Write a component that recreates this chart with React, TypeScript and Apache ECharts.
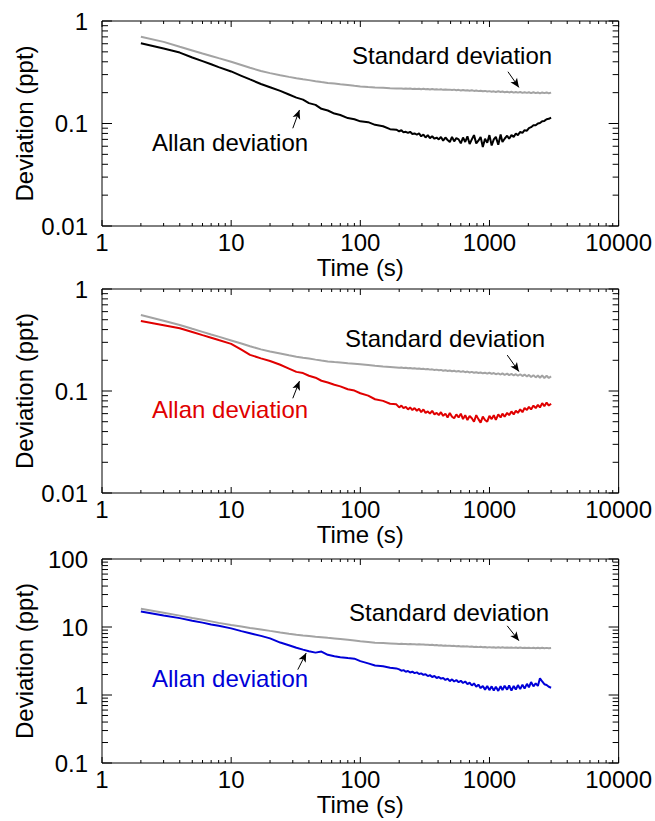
import React, { useEffect, useRef } from 'react';
import * as echarts from 'echarts';

const FONT = "'Liberation Sans', Arial, Helvetica, sans-serif";

// time grid (s)
const T = [
  2, 3, 4, 5, 6, 7, 8, 10, 12, 14,
  17, 20, 24, 28, 32, 36, 40, 45, 50, 56,
  63, 70, 80, 90, 100, 115, 130, 150, 170, 190,
  200, 208, 216, 225, 234, 243, 253, 263, 274, 285,
  296, 308, 320, 333, 346, 360, 375, 390, 405, 421,
  438, 456, 474, 493, 513, 533, 554, 577, 600, 624,
  649, 675, 702, 730, 759, 790, 821, 854, 888, 924,
  961, 999, 1040, 1080, 1120, 1170, 1220, 1260, 1310, 1370,
  1420, 1480, 1540, 1600, 1660, 1730, 1800, 1870, 1950, 2020,
  2100, 2190, 2280, 2370, 2460, 2560, 2660, 2770, 2880, 3000,
];

// panel 1 (black)
const P1_ALLAN = [
  0.606, 0.538, 0.492, 0.441, 0.406, 0.378, 0.355, 0.322, 0.292, 0.269,
  0.243, 0.226, 0.208, 0.192, 0.179, 0.171, 0.158, 0.152, 0.139, 0.134,
  0.125, 0.121, 0.113, 0.110, 0.105, 0.103, 0.097, 0.094, 0.088, 0.087,
  0.084, 0.086, 0.082, 0.083, 0.081, 0.083, 0.079, 0.080, 0.078, 0.080,
  0.075, 0.078, 0.073, 0.077, 0.072, 0.075, 0.071, 0.073, 0.070, 0.074,
  0.068, 0.073, 0.069, 0.066, 0.074, 0.067, 0.072, 0.070, 0.064, 0.073,
  0.066, 0.075, 0.063, 0.070, 0.077, 0.064, 0.068, 0.074, 0.059, 0.071,
  0.065, 0.077, 0.061, 0.070, 0.074, 0.062, 0.078, 0.066, 0.071, 0.076,
  0.071, 0.077, 0.074, 0.080, 0.077, 0.083, 0.081, 0.086, 0.085, 0.090,
  0.092, 0.096, 0.096, 0.100, 0.101, 0.105, 0.106, 0.110, 0.111, 0.114,
];
const P1_STD = [
  0.703, 0.626, 0.560, 0.516, 0.482, 0.456, 0.434, 0.400, 0.372, 0.350,
  0.325, 0.310, 0.296, 0.285, 0.276, 0.270, 0.265, 0.259, 0.254, 0.249,
  0.245, 0.241, 0.237, 0.233, 0.230, 0.227, 0.225, 0.223, 0.221, 0.220,
  0.219, 0.220, 0.218, 0.219, 0.218, 0.219, 0.217, 0.218, 0.217, 0.218,
  0.216, 0.218, 0.216, 0.217, 0.215, 0.217, 0.215, 0.216, 0.214, 0.216,
  0.213, 0.215, 0.213, 0.214, 0.212, 0.214, 0.211, 0.213, 0.210, 0.212,
  0.210, 0.211, 0.209, 0.211, 0.208, 0.210, 0.207, 0.209, 0.206, 0.208,
  0.205, 0.207, 0.204, 0.206, 0.203, 0.206, 0.203, 0.205, 0.202, 0.204,
  0.201, 0.204, 0.200, 0.203, 0.200, 0.203, 0.199, 0.202, 0.199, 0.202,
  0.198, 0.202, 0.198, 0.201, 0.197, 0.201, 0.198, 0.201, 0.197, 0.200,
];

// panel 2 (red)
const P2_ALLAN = [
  0.486, 0.442, 0.412, 0.379, 0.353, 0.333, 0.316, 0.290, 0.254, 0.226,
  0.209, 0.197, 0.181, 0.166, 0.154, 0.150, 0.141, 0.135, 0.126, 0.121,
  0.115, 0.111, 0.104, 0.101, 0.095, 0.090, 0.083, 0.080, 0.075, 0.074,
  0.069, 0.072, 0.068, 0.070, 0.066, 0.069, 0.065, 0.068, 0.064, 0.067,
  0.062, 0.066, 0.061, 0.063, 0.060, 0.064, 0.059, 0.061, 0.058, 0.062,
  0.057, 0.060, 0.055, 0.061, 0.056, 0.054, 0.059, 0.055, 0.060, 0.053,
  0.058, 0.052, 0.057, 0.054, 0.050, 0.058, 0.053, 0.049, 0.056, 0.052,
  0.050, 0.057, 0.053, 0.058, 0.052, 0.059, 0.055, 0.060, 0.056, 0.061,
  0.058, 0.063, 0.059, 0.064, 0.061, 0.066, 0.062, 0.068, 0.065, 0.070,
  0.066, 0.072, 0.068, 0.073, 0.069, 0.076, 0.071, 0.077, 0.072, 0.075,
];
const P2_STD = [
  0.556, 0.488, 0.444, 0.407, 0.380, 0.358, 0.341, 0.313, 0.292, 0.275,
  0.256, 0.244, 0.233, 0.224, 0.217, 0.212, 0.208, 0.203, 0.199, 0.195,
  0.192, 0.190, 0.187, 0.185, 0.183, 0.180, 0.177, 0.174, 0.172, 0.170,
  0.169, 0.170, 0.168, 0.169, 0.167, 0.168, 0.166, 0.167, 0.165, 0.166,
  0.164, 0.165, 0.163, 0.164, 0.162, 0.163, 0.161, 0.162, 0.160, 0.161,
  0.158, 0.160, 0.157, 0.159, 0.156, 0.158, 0.155, 0.157, 0.154, 0.156,
  0.153, 0.155, 0.152, 0.154, 0.151, 0.153, 0.150, 0.152, 0.149, 0.151,
  0.148, 0.151, 0.147, 0.150, 0.146, 0.149, 0.145, 0.149, 0.144, 0.148,
  0.143, 0.147, 0.142, 0.146, 0.141, 0.146, 0.140, 0.145, 0.139, 0.144,
  0.137, 0.143, 0.136, 0.142, 0.135, 0.142, 0.134, 0.141, 0.134, 0.139,
];

// panel 3 (blue)
const P3_ALLAN = [
  16.9, 14.8, 13.5, 12.4, 11.6, 10.9, 10.4, 9.55, 8.7, 8.1,
  7.4, 6.8, 5.9, 5.4, 4.95, 4.65, 4.4, 4.2, 4.35, 3.9,
  3.72, 3.60, 3.50, 3.42, 3.15, 2.92, 2.72, 2.64, 2.52, 2.46,
  2.38, 2.28, 2.32, 2.20, 2.26, 2.14, 2.20, 2.10, 2.15, 2.04,
  2.08, 1.98, 2.02, 1.90, 1.96, 1.84, 1.90, 1.78, 1.84, 1.74,
  1.78, 1.66, 1.74, 1.60, 1.70, 1.58, 1.66, 1.54, 1.62, 1.50,
  1.58, 1.44, 1.52, 1.38, 1.48, 1.32, 1.42, 1.26, 1.36, 1.20,
  1.36, 1.18, 1.34, 1.16, 1.32, 1.15, 1.35, 1.18, 1.37, 1.20,
  1.38, 1.16, 1.36, 1.20, 1.40, 1.22, 1.42, 1.24, 1.46, 1.30,
  1.55, 1.34, 1.48, 1.36, 1.76, 1.58, 1.44, 1.40, 1.32, 1.28,
];
const P3_STD = [
  18.6, 16.2, 14.7, 13.6, 12.8, 12.1, 11.5, 10.7, 10.2, 9.7,
  9.2, 8.77, 8.33, 7.98, 7.70, 7.52, 7.37, 7.21, 7.08, 6.93,
  6.78, 6.64, 6.47, 6.32, 6.19, 6.03, 5.88, 5.80, 5.73, 5.67,
  5.64, 5.66, 5.61, 5.63, 5.58, 5.61, 5.56, 5.59, 5.54, 5.57,
  5.51, 5.54, 5.47, 5.50, 5.43, 5.47, 5.39, 5.43, 5.35, 5.39,
  5.31, 5.35, 5.28, 5.31, 5.24, 5.28, 5.21, 5.25, 5.18, 5.22,
  5.15, 5.19, 5.12, 5.16, 5.09, 5.13, 5.06, 5.11, 5.04, 5.08,
  5.01, 5.06, 4.99, 5.04, 4.97, 5.03, 4.96, 5.02, 4.95, 5.01,
  4.94, 5.00, 4.93, 4.99, 4.92, 4.98, 4.91, 4.97, 4.90, 4.96,
  4.89, 4.95, 4.88, 4.94, 4.87, 4.94, 4.87, 4.93, 4.86, 4.90,
];

// axis ticks
const X_MAJOR = [1, 10, 100, 1000, 10000];
const X_MINOR = [
  2, 3, 4, 5, 6, 7, 8, 9,
  20, 30, 40, 50, 60, 70, 80, 90,
  200, 300, 400, 500, 600, 700, 800, 900,
  2000, 3000, 4000, 5000, 6000, 7000, 8000, 9000,
];
const Y_MAJOR_A = [0.01, 0.1, 1];
const Y_MINOR_A = [
  0.02, 0.03, 0.04, 0.05, 0.06, 0.07, 0.08, 0.09,
  0.2, 0.3, 0.4, 0.5, 0.6, 0.7, 0.8, 0.9,
];
const Y_MAJOR_C = [0.1, 1, 10, 100];
const Y_MINOR_C = [
  0.2, 0.3, 0.4, 0.5, 0.6, 0.7, 0.8, 0.9,
  2, 3, 4, 5, 6, 7, 8, 9,
  20, 30, 40, 50, 60, 70, 80, 90,
];

// annotation arrows [start, end] in data coords
const P1_STD_ARROW = [[1390, 0.32], [1690, 0.225]];
const P1_ALLAN_ARROW = [[30, 0.0898], [33.8, 0.1355]];
const P2_STD_ARROW = [[1372, 0.225], [1690, 0.155]];
const P2_ALLAN_ARROW = [[30, 0.0848], [33.8, 0.125]];
const P3_STD_ARROW = [[1372, 10.4], [1690, 6.29]];
const P3_ALLAN_ARROW = [[32.8, 2.36], [38.1, 4.15]];

const STD_LABEL = 'Standard deviation';
const ALLAN_LABEL = 'Allan deviation';

const PANELS = [
  { top: 21, height: 205, yMin: 0.01, yMax: 1, yMajor: Y_MAJOR_A, yMinor: Y_MINOR_A, allan: P1_ALLAN, std: P1_STD, color: '#000000', stdArrow: P1_STD_ARROW, allanArrow: P1_ALLAN_ARROW, stdPos: [352, 55], allanPos: [152, 142] },
  { top: 289, height: 204, yMin: 0.01, yMax: 1, yMajor: Y_MAJOR_A, yMinor: Y_MINOR_A, allan: P2_ALLAN, std: P2_STD, color: '#e00000', stdArrow: P2_STD_ARROW, allanArrow: P2_ALLAN_ARROW, stdPos: [345, 338], allanPos: [152, 409] },
  { top: 559, height: 204, yMin: 0.1, yMax: 100, yMajor: Y_MAJOR_C, yMinor: Y_MINOR_C, allan: P3_ALLAN, std: P3_STD, color: '#0000d8', stdArrow: P3_STD_ARROW, allanArrow: P3_ALLAN_ARROW, stdPos: [349, 612], allanPos: [152, 678] },
];

const GRID_LEFT = 102;
const GRID_WIDTH = 518;

function xTickSeries(idx: number, values: number[], len: number, yRef: number) {
  return {
    type: 'custom',
    xAxisIndex: idx,
    yAxisIndex: idx,
    silent: true,
    z: 10,
    data: values.map((v) => [v, yRef]),
    renderItem: (params: any, api: any) => {
      const p = api.coord([api.value(0), yRef]);
      const cs = params.coordSys;
      const x = p[0];
      const yb = cs.y + cs.height;
      const yt = cs.y;
      return {
        type: 'group',
        children: [
          { type: 'line', shape: { x1: x, y1: yb, x2: x, y2: yb - len }, style: { stroke: '#000', lineWidth: 1 } },
          { type: 'line', shape: { x1: x, y1: yt, x2: x, y2: yt + len }, style: { stroke: '#000', lineWidth: 1 } },
        ],
      };
    },
  };
}

function yTickSeries(idx: number, values: number[], len: number) {
  return {
    type: 'custom',
    xAxisIndex: idx,
    yAxisIndex: idx,
    silent: true,
    z: 10,
    data: values.map((v) => [10, v]),
    renderItem: (params: any, api: any) => {
      const p = api.coord([10, api.value(1)]);
      const cs = params.coordSys;
      const y = p[1];
      const xl = cs.x;
      const xr = cs.x + cs.width;
      return {
        type: 'group',
        children: [
          { type: 'line', shape: { x1: xl, y1: y, x2: xl + len, y2: y }, style: { stroke: '#000', lineWidth: 1 } },
          { type: 'line', shape: { x1: xr, y1: y, x2: xr - len, y2: y }, style: { stroke: '#000', lineWidth: 1 } },
        ],
      };
    },
  };
}

function arrowMarkLine(arrow: number[][]) {
  return {
    silent: true,
    animation: false,
    symbol: ['none', 'arrow'],
    symbolSize: [6, 9],
    lineStyle: { color: '#000', width: 1, type: 'solid' },
    label: { show: false },
    emphasis: { disabled: true },
    data: [[{ coord: arrow[0] }, { coord: arrow[1] }]],
  };
}

function buildOption() {
  const grid: any[] = [];
  const xAxis: any[] = [];
  const yAxis: any[] = [];
  const series: any[] = [];
  const graphic: any[] = [];

  PANELS.forEach((p, i) => {
    grid.push({
      left: GRID_LEFT,
      top: p.top,
      width: GRID_WIDTH,
      height: p.height,
      show: true,
      borderColor: '#000',
      borderWidth: 1,
      backgroundColor: 'transparent',
      containLabel: false,
    });
    xAxis.push({
      type: 'log',
      logBase: 10,
      gridIndex: i,
      min: 1,
      max: 10000,
      name: 'Time (s)',
      nameLocation: 'middle',
      nameGap: 29,
      nameMoveOverlap: false,
      nameTextStyle: { fontSize: 24, lineHeight: 24, color: '#000', fontFamily: FONT },
      axisLine: { show: false },
      axisTick: { show: false },
      splitLine: { show: false },
      minorTick: { show: false },
      axisLabel: {
        fontSize: 24,
        lineHeight: 24,
        color: '#000',
        fontFamily: FONT,
        margin: 4,
        showMinLabel: true,
        showMaxLabel: true,
        formatter: (v: number) => String(Math.round(v)),
      },
    });
    yAxis.push({
      type: 'log',
      logBase: 10,
      gridIndex: i,
      min: p.yMin,
      max: p.yMax,
      name: 'Deviation (ppt)',
      nameLocation: 'middle',
      nameGap: 66,
      nameMoveOverlap: false,
      nameTextStyle: { fontSize: 24, color: '#000', fontFamily: FONT },
      axisLine: { show: false },
      axisTick: { show: false },
      splitLine: { show: false },
      minorTick: { show: false },
      axisLabel: { fontSize: 24, color: '#000', fontFamily: FONT, margin: 14, showMinLabel: true, showMaxLabel: true },
    });

    series.push({
      type: 'line',
      xAxisIndex: i,
      yAxisIndex: i,
      data: T.map((t, k) => [t, p.std[k]]),
      symbol: 'none',
      showSymbol: false,
      lineStyle: { color: '#a3a3a3', width: 2 },
      z: 2,
      silent: true,
      markLine: arrowMarkLine(p.stdArrow),
    });
    series.push({
      type: 'line',
      xAxisIndex: i,
      yAxisIndex: i,
      data: T.map((t, k) => [t, p.allan[k]]),
      symbol: 'none',
      showSymbol: false,
      lineStyle: { color: p.color, width: 2 },
      z: 3,
      silent: true,
      markLine: arrowMarkLine(p.allanArrow),
    });

    series.push(xTickSeries(i, X_MAJOR, 6, p.yMax));
    series.push(xTickSeries(i, X_MINOR, 3, p.yMax));
    series.push(yTickSeries(i, p.yMajor, 10));
    series.push(yTickSeries(i, p.yMinor, 6));

    graphic.push({
      type: 'text',
      x: p.stdPos[0],
      y: p.stdPos[1],
      silent: true,
      style: { text: STD_LABEL, fontSize: 24, fontFamily: FONT, fill: '#000', verticalAlign: 'middle', align: 'left' },
    });
    graphic.push({
      type: 'text',
      x: p.allanPos[0],
      y: p.allanPos[1],
      silent: true,
      style: { text: ALLAN_LABEL, fontSize: 24, fontFamily: FONT, fill: p.color, verticalAlign: 'middle', align: 'left' },
    });
  });

  return {
    animation: false,
    backgroundColor: '#ffffff',
    textStyle: { fontFamily: FONT },
    grid,
    xAxis,
    yAxis,
    series,
    graphic,
  };
}

export default function App() {
  const ref = useRef<HTMLDivElement>(null);
  useEffect(() => {
    if (!ref.current) return;
    const chart = echarts.init(ref.current, null, { renderer: 'svg' });
    chart.setOption(buildOption() as any);
    return () => {
      chart.dispose();
    };
  }, []);
  return (
    <div
      ref={ref}
      style={{ position: 'absolute', left: 0, top: 0, width: 655, height: 821, background: '#fff' }}
    />
  );
}
